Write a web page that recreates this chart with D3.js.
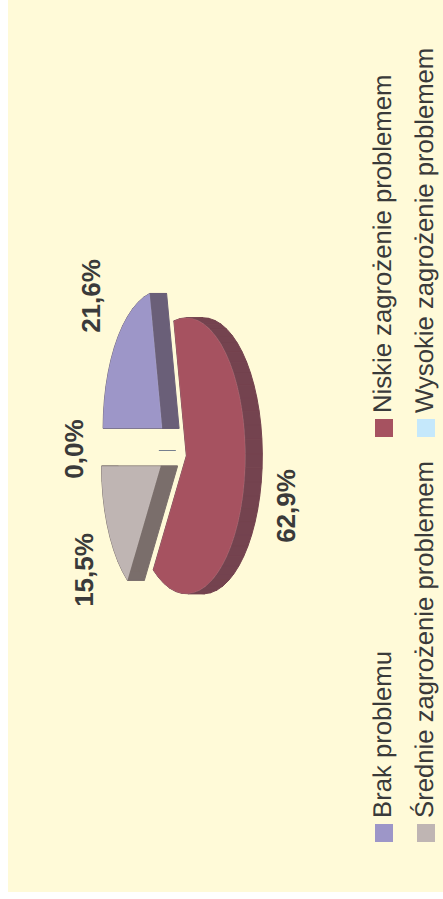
<!DOCTYPE html>
<html><head><meta charset="utf-8">
<script src="https://cdn.jsdelivr.net/npm/d3@7/dist/d3.min.js"></script>
<style>html,body{margin:0;padding:0;background:#fff}svg{display:block}text{font-family:"Liberation Sans",Arial,sans-serif;fill:#3a3a3a;text-rendering:geometricPrecision}</style>
</head><body><div id="c"></div>
<script>
const categories = ["Brak problemu","Niskie zagrożenie problemem","Średnie zagrożenie problemem","Wysokie zagrożenie problemem"];
const values = [21.6,62.9,15.5,0.0];
const labels = ["21,6%","62,9%","15,5%","0,0%"];
const faceColors = ["#9D96C8","#A65260","#BFB5B3","#C5E8FB"];
const sideColors = ["#6A5F78","#74434F","#7A6E6B","#77808F"];
const explode = [0.25,0.22,0.25,0.25];

const W=443,H=899;
const svg=d3.select("#c").append("svg").attr("width",W).attr("height",H);
svg.append("rect").attr("width",W).attr("height",H).attr("fill","#fff");
svg.append("rect").attr("x",8).attr("y",0).attr("width",W-8).attr("height",892).attr("fill","#FFFAD8");

const cx=173.6,cy=450,rx=59,ry=138,depth=17;
const pie=d3.pie().sort(null).value(d=>d).startAngle(Math.PI).endAngle(3*Math.PI);
const arcs=pie(values);
const proj=(t,ox,oy)=>[ox+rx*Math.cos(t),oy+ry*Math.sin(t)];

const g=svg.append("g");
arcs.forEach((a,i)=>{
  const mid=(a.startAngle+a.endAngle)/2;
  const ox=cx+explode[i]*rx*Math.cos(mid), oy=cy+explode[i]*ry*Math.sin(mid);
  const steps=Math.max(1,Math.round((a.endAngle-a.startAngle)/(Math.PI/30)));
  const pts=[[ox,oy]];
  d3.range(steps+1).forEach(s=>pts.push(proj(a.startAngle+(a.endAngle-a.startAngle)*s/steps,ox,oy)));
  const side=g.append("g");
  pts.forEach((p,j)=>{
    const q=pts[(j+1)%pts.length];
    if(values[i]===0 && j>0) return;
    if(values[i]===0){
      side.append("line").attr("x1",p[0]).attr("y1",Math.round(p[1])+.5).attr("x2",p[0]+depth).attr("y2",Math.round(p[1])+.5)
        .attr("stroke",sideColors[i]).attr("stroke-width",1);
      return;
    }
    side.append("path")
      .attr("d",d3.line()([p,q,[q[0]+depth,q[1]],[p[0]+depth,p[1]]])+"Z")
      .attr("fill",sideColors[i]).attr("stroke",sideColors[i]).attr("stroke-width",1);
  });
  if(values[i]>0){
    g.append("path").attr("d",d3.line()(pts)+"Z").attr("fill",faceColors[i])
      .attr("stroke","rgba(255,255,255,0.1)").attr("stroke-width",0.8);
  }
});

// data labels
const labelPos=[[100,296],[295,506],[93,570],[82.5,449]];
labels.forEach((t,i)=>{
  svg.append("text").attr("transform",`translate(${labelPos[i][0]},${labelPos[i][1]}) rotate(-90)`)
    .attr("text-anchor","middle").attr("font-weight","bold").attr("font-size",26).text(t);
});

// legend
const legend=[[375,824],[375,419],[417,824],[417,419]];
categories.forEach((c,i)=>{
  const [x,y]=legend[i];
  svg.append("rect").attr("x",x).attr("y",y).attr("width",18).attr("height",18).attr("fill",faceColors[i]);
  svg.append("text").attr("transform",`translate(${x+16},${y-6}) rotate(-90)`).attr("font-size",25.7).text(c);
});
</script></body></html>
